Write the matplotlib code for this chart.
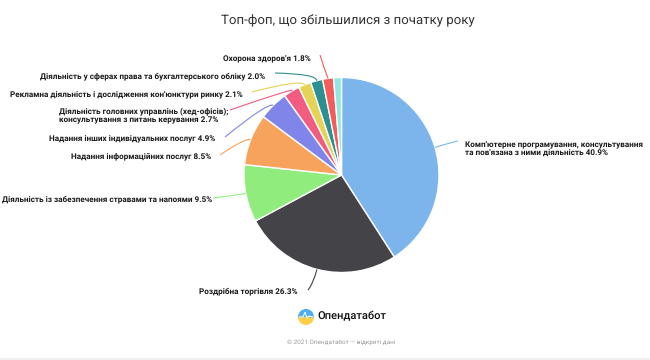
import matplotlib
matplotlib.use('Agg')

import numpy as np
from matplotlib import pyplot as plt
from matplotlib.patches import Circle, PathPatch
from matplotlib.path import Path

plt.rcParams['font.family'] = ['Roboto', 'DejaVu Sans']
plt.rcParams['text.hinting'] = 'no_hinting'

title = "Топ-фоп, що збільшилися з початку року"
values = [40.9, 26.3, 9.5, 8.5, 4.9, 2.7, 2.1, 2.0, 1.8, 1.3]
colors = ["#7cb5ec", "#434348", "#90ed7d", "#f7a35c", "#8085e9",
          "#f15c80", "#e4d354", "#2b908f", "#f45b5b", "#91e8e1"]
labels = ["Комп'ютерне програмування, консультування\nта пов'язана з ними діяльність 40.9%",
          "Роздрібна торгівля 26.3%",
          "Діяльність із забезпечення стравами та напоями 9.5%",
          "Надання інформаційних послуг 8.5%",
          "Надання інших індивідуальних послуг 4.9%",
          "Діяльність головних управлінь (хед-офісів);\nконсультування з питань керування 2.7%",
          "Рекламна діяльність і дослідження кон'юнктури ринку 2.1%",
          "Діяльність у сферах права та бухгалтерського обліку 2.0%",
          "Охорона здоров'я 1.8%",
          None]

# label anchor in pixels: x, y, ha
label_pos = [(465, 148, 'left'), (298, 291, 'right'), (212, 199, 'right'),
             (211, 156, 'right'), (215, 139, 'right'), (59, 116, 'left'),
             (243, 94, 'right'), (265, 76, 'right'), (311, 58, 'right'), None]
# connector: far end, bend point (pixels)
conn_end = [(458, 141), (308, 290), (213, 198), (220, 155), (225, 137),
            (230, 110), (252, 92), (275, 73), (320, 55), None]
conn_bend = [(445, 144), (313, 284), (230, 196), (245, 138), (268, 102),
             (299, 86), (302, 79), (317, 74), (324, 68), None]

CX, CY, R = 341.5, 175, 97.5
H = 360


def py(y):
    return H - y


fig = plt.figure(figsize=(6.5, 3.6), dpi=100)
ax = fig.add_axes([0, 0, 1, 1])
ax.set_xlim(0, 650)
ax.set_ylim(0, H)
ax.axis('off')

ax.pie(values, colors=colors, startangle=90, counterclock=False,
       center=(CX, py(CY)), radius=R, frame=False,
       wedgeprops={'edgecolor': 'white', 'linewidth': 1})
ax.set_xlim(0, 650)
ax.set_ylim(0, H)
ax.set_aspect('auto')

fig.text(347.5 / 650, 1 - 21 / H, title, ha='center', va='center',
         fontsize=9.5, color='#333333')

# connectors start on the slice edge at its middle angle
mids = 90 - (np.cumsum(values) - np.array(values) / 2) * 3.6
for i, lab in enumerate(labels):
    if lab is None:
        continue
    a = np.radians(mids[i])
    start = (CX + R * np.cos(a), py(CY) + R * np.sin(a))
    bx, by = conn_bend[i]
    ex, ey = conn_end[i]
    path = Path([start, (bx, py(by)), (ex, py(ey))],
                [Path.MOVETO, Path.CURVE3, Path.CURVE3])
    ax.add_patch(PathPatch(path, fill=False, edgecolor=colors[i], lw=0.8))
    x, y, ha = label_pos[i]
    ax.text(x, py(y), lab, ha=ha, va='center', fontsize=5.85, fontweight='bold',
            color='#1a1a1a', linespacing=1.15, multialignment='left')

# logo: blue top, yellow bottom, white pulse between them
grad = np.clip((np.linspace(0, 1, 64) - 0.4) / 0.2, 0, 1).reshape(-1, 1)
cols = np.array([[0.30, 0.68, 0.95]]) * (1 - grad) + np.array([[0.99, 0.82, 0.28]]) * grad
img = ax.imshow(cols.reshape(64, 1, 3), extent=(298, 314, py(325), py(309)),
                aspect='auto', zorder=3)
img.set_clip_path(Circle((306, py(317)), 8, transform=ax.transData))
pulse = Path([(299, py(317)), (303, py(317)), (305, py(312)), (307, py(318)),
              (309, py(316)), (313, py(317))])
ax.add_patch(PathPatch(pulse, fill=False, edgecolor='#ffffff', lw=0.7, zorder=4))
ax.set_xlim(0, 650)
ax.set_ylim(0, H)
ax.text(317, py(316.5), "Опендатабот", ha='left', va='center', fontsize=8,
        fontweight='medium', color='#111111')
ax.text(341, py(342), "© 2021 Опендатабот — відкриті дані", ha='center', va='center',
        fontsize=4.6, color='#999999')
ax.axhspan(0, 2, color='#f0f0f0', lw=0)

plt.savefig("out.png", dpi=100)
